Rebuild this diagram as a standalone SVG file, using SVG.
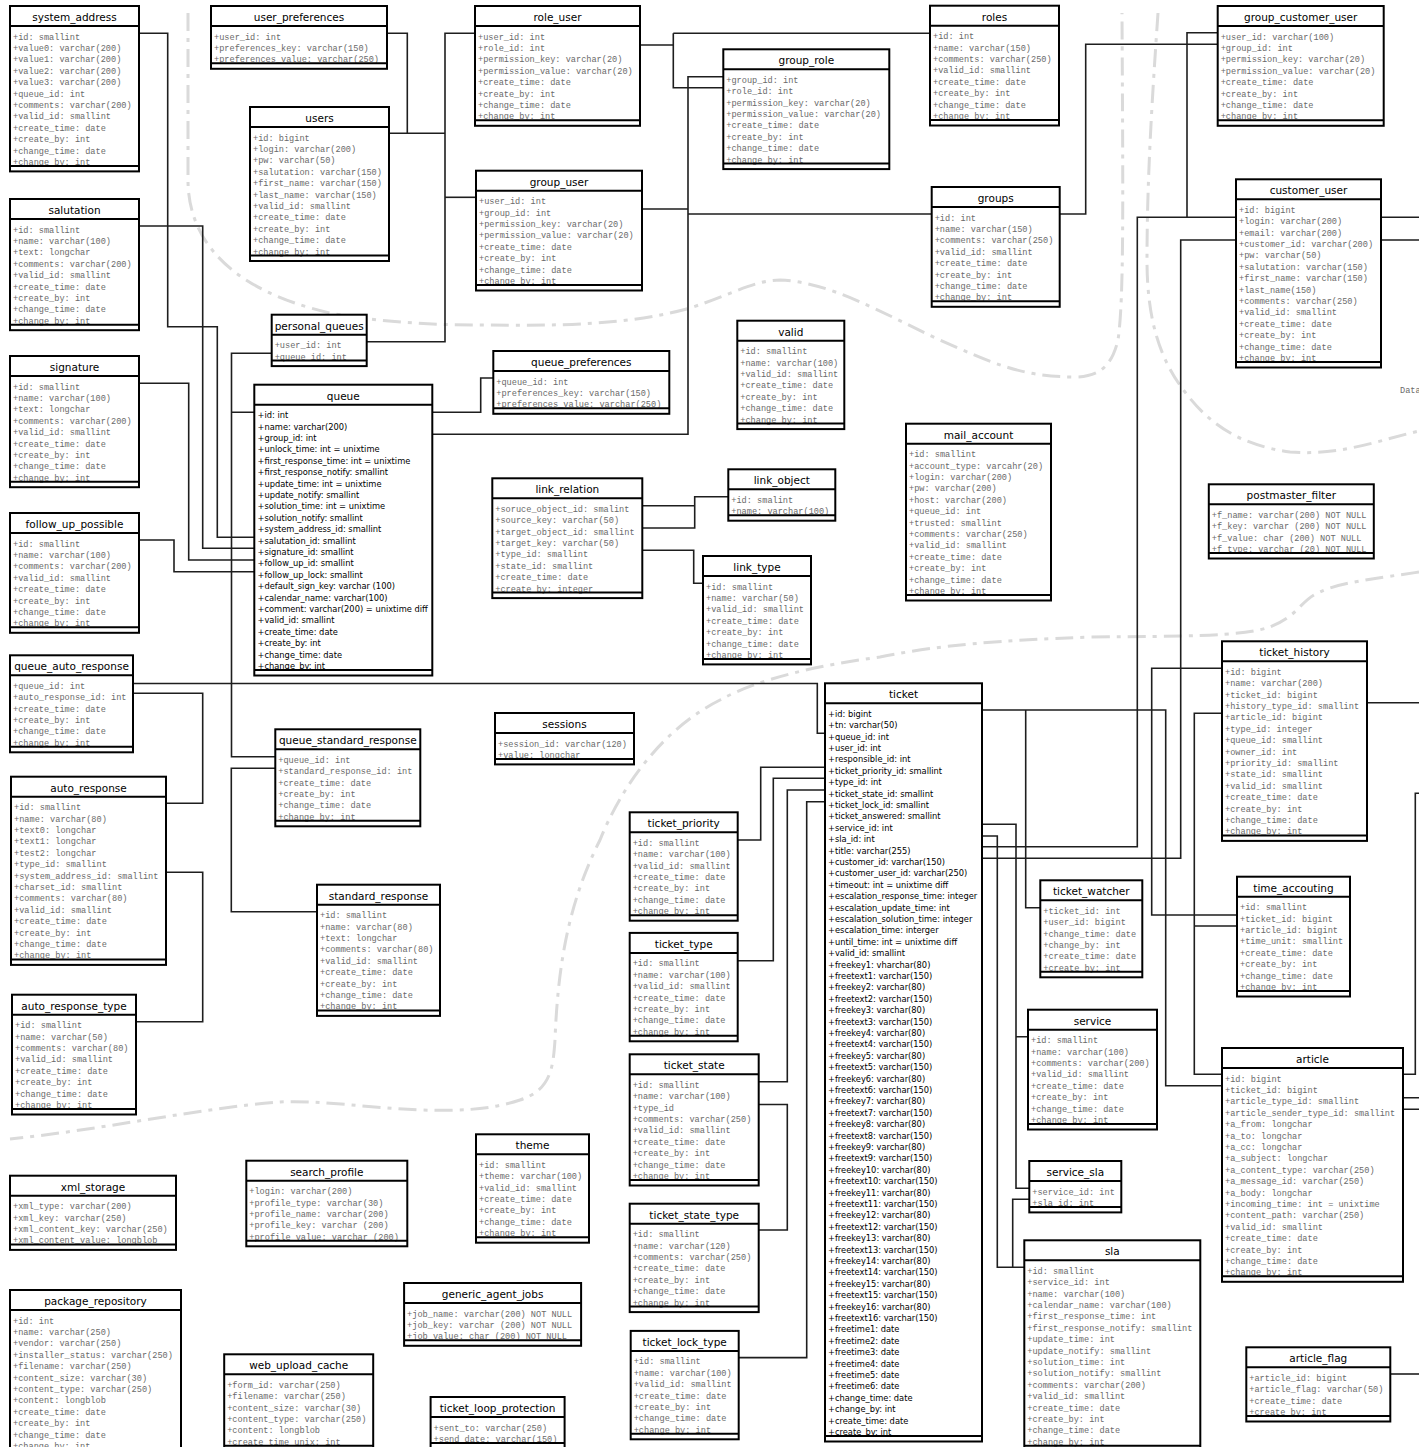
<svg xmlns="http://www.w3.org/2000/svg" width="1419" height="1447" viewBox="0 0 1419 1447">
<style>
.b{fill:#fff;stroke:#000;stroke-width:2}
.l{fill:none;stroke:#000;stroke-width:2}
.t{font-family:"DejaVu Sans",sans-serif;font-size:10.5px;text-anchor:middle;fill:#000}
.m{font-family:"Liberation Mono",monospace;font-size:8.6px;fill:#6a6a6a}
.s{font-family:"DejaVu Sans",sans-serif;font-size:8.3px;fill:#000}
.c{fill:none;stroke:#1e1e1e;stroke-width:1.6}
.r{fill:none;stroke:#dadada;stroke-width:3;stroke-dasharray:18 7 4 7}
</style>
<rect width="1419" height="1447" fill="#fff"/>
<g id="regions">
<path class="r" d="M188,13 L188,180 C188,240 230,290 330,313 C380,322 430,325 480,325 C560,326 630,325 690,308 C730,295 755,280 780,280 C830,282 880,312 940,340 C990,362 1020,377 1075,377 C1100,377 1112,365 1118,340 C1124,300 1123,200 1122,13"/>
<path class="r" d="M1158,13 C1152,100 1147,180 1147,260 C1147,320 1160,360 1185,392 C1210,425 1240,445 1290,452 C1340,456 1380,440 1419,431"/>
<path class="r" d="M1419,572 C1380,578 1340,582 1320,592 C1300,600 1300,615 1270,627 C1240,637 1180,636 1092,637 C1000,640 940,645 880,657 C820,665 760,678 720,700 C660,730 620,790 600,840 C570,900 558,960 555,1040 C553,1070 550,1090 520,1100 C490,1110 460,1111 420,1110 C370,1108 320,1100 280,1102 C200,1108 100,1130 10,1139"/>
</g>
<g id="connectors">
<path class="c" d="M139,33.3H167.7V326.7H217.3V537.3H254.3"/>
<path class="c" d="M139,226H202.7V548.3H254.3"/>
<path class="c" d="M139,383.3H188.7V560H254.3"/>
<path class="c" d="M139,540H174V571.7H254.3"/>
<path class="c" d="M387,33.3H407.3V133.3"/>
<path class="c" d="M389,133.3H445"/>
<path class="c" d="M475,33.3H445V341.7H366.7"/>
<path class="c" d="M445,197.3H476"/>
<path class="c" d="M640.3,45H673.3M673.3,33.3H930M673.3,33.3V87.7H723.3"/>
<path class="c" d="M723.3,76.7H688V434.3H432.3"/>
<path class="c" d="M641.7,209H688M688,214H931.7"/>
<path class="c" d="M1055,214H1085.7V44.3H1217.7"/>
<path class="c" d="M1217.7,32.7H1187V217.3"/>
<path class="c" d="M1236,217.3H1137.3V846.7H981.7"/>
<path class="c" d="M1236,240H1180.7V858.3H981.7"/>
<path class="c" d="M1380.7,217.3H1419M1380.7,240H1419"/>
<path class="c" d="M271.7,353.3H231.5V756.7H275.3M231.5,412.3H254.3"/>
<path class="c" d="M128.3,683.5H817.3V733.3H825"/>
<path class="c" d="M128.3,693.3H202.7V803.3H166.3"/>
<path class="c" d="M166.3,872.3H202.7V1021.7H135.7"/>
<path class="c" d="M275.3,768.3H231.3V911.7H317"/>
<path class="c" d="M432.3,412.3H480.7V378H493.3"/>
<path class="c" d="M642.3,505.7H694.7V496.7H728.3M642.3,528H694.7V505.7"/>
<path class="c" d="M642.3,550.3H693.7V583.3H703"/>
<path class="c" d="M737.3,840H760.7V767.3H825"/>
<path class="c" d="M737.3,960.7H773.3V778.3H825"/>
<path class="c" d="M758.7,1081.7H787.3V790H825"/>
<path class="c" d="M758.7,1104.5H787.3V1230H758.7"/>
<path class="c" d="M738.3,1357.6H806.7V801.7H825"/>
<path class="c" d="M981.7,710H1165.7V1085.7H1222"/>
<path class="c" d="M1025.7,710V907.7H1040.3"/>
<path class="c" d="M981.7,824.3H1016V1188.3H1029.3M1016,1036.7H1028"/>
<path class="c" d="M981.7,836H997.3V1267.3H1024.3"/>
<path class="c" d="M1029.3,1199.3H1012.7V1267.3"/>
<path class="c" d="M1222,668.3H1151.7V915H1237"/>
<path class="c" d="M1222,713.3H1194.3V1074.3H1222M1194.3,926H1237"/>
<path class="c" d="M1361.3,702.7H1419"/>
<path class="c" d="M1403,1074.3H1415.3V793.3H1419"/>
<path class="c" d="M1403,1097.7H1419M1403,1109.3H1419"/>
<path class="c" d="M1390.7,1374H1419"/>
</g>
<g id="system_address"><rect class="b" x="10" y="6" width="129" height="165.4"/><text class="t" x="74.5" y="21">system_address</text><text class="m" y="39.5"><tspan x="13">+id: smallint</tspan><tspan x="13" dy="11.4">+value0: varchar(200)</tspan><tspan x="13" dy="11.4">+value1: varchar(200)</tspan><tspan x="13" dy="11.4">+value2: varchar(200)</tspan><tspan x="13" dy="11.4">+value3: varchar(200)</tspan><tspan x="13" dy="11.4">+queue_id: int</tspan><tspan x="13" dy="11.4">+comments: varchar(200)</tspan><tspan x="13" dy="11.4">+valid_id: smallint</tspan><tspan x="13" dy="11.4">+create_time: date</tspan><tspan x="13" dy="11.4">+create_by: int</tspan><tspan x="13" dy="11.4">+change_time: date</tspan><tspan x="13" dy="11.4">+change_by: int</tspan></text><path class="l" d="M10,26H139M10,165.9H139"/></g>
<g id="salutation"><rect class="b" x="10" y="199" width="129" height="131.2"/><text class="t" x="74.5" y="214">salutation</text><text class="m" y="232.5"><tspan x="13">+id: smallint</tspan><tspan x="13" dy="11.4">+name: varchar(100)</tspan><tspan x="13" dy="11.4">+text: longchar</tspan><tspan x="13" dy="11.4">+comments: varchar(200)</tspan><tspan x="13" dy="11.4">+valid_id: smallint</tspan><tspan x="13" dy="11.4">+create_time: date</tspan><tspan x="13" dy="11.4">+create_by: int</tspan><tspan x="13" dy="11.4">+change_time: date</tspan><tspan x="13" dy="11.4">+change_by: int</tspan></text><path class="l" d="M10,219H139M10,324.7H139"/></g>
<g id="signature"><rect class="b" x="10" y="356" width="129" height="131.2"/><text class="t" x="74.5" y="371">signature</text><text class="m" y="389.5"><tspan x="13">+id: smallint</tspan><tspan x="13" dy="11.4">+name: varchar(100)</tspan><tspan x="13" dy="11.4">+text: longchar</tspan><tspan x="13" dy="11.4">+comments: varchar(200)</tspan><tspan x="13" dy="11.4">+valid_id: smallint</tspan><tspan x="13" dy="11.4">+create_time: date</tspan><tspan x="13" dy="11.4">+create_by: int</tspan><tspan x="13" dy="11.4">+change_time: date</tspan><tspan x="13" dy="11.4">+change_by: int</tspan></text><path class="l" d="M10,376H139M10,481.7H139"/></g>
<g id="follow_up_possible"><rect class="b" x="10" y="513" width="129" height="119.8"/><text class="t" x="74.5" y="528">follow_up_possible</text><text class="m" y="546.5"><tspan x="13">+id: smallint</tspan><tspan x="13" dy="11.4">+name: varchar(100)</tspan><tspan x="13" dy="11.4">+comments: varchar(200)</tspan><tspan x="13" dy="11.4">+valid_id: smallint</tspan><tspan x="13" dy="11.4">+create_time: date</tspan><tspan x="13" dy="11.4">+create_by: int</tspan><tspan x="13" dy="11.4">+change_time: date</tspan><tspan x="13" dy="11.4">+change_by: int</tspan></text><path class="l" d="M10,533H139M10,627.3H139"/></g>
<g id="queue_auto_response"><rect class="b" x="10" y="655.3" width="123" height="97"/><text class="t" x="71.5" y="670.3">queue_auto_response</text><text class="m" y="688.8"><tspan x="13">+queue_id: int</tspan><tspan x="13" dy="11.4">+auto_response_id: int</tspan><tspan x="13" dy="11.4">+create_time: date</tspan><tspan x="13" dy="11.4">+create_by: int</tspan><tspan x="13" dy="11.4">+change_time: date</tspan><tspan x="13" dy="11.4">+change_by: int</tspan></text><path class="l" d="M10,675.3H133M10,746.8H133"/></g>
<g id="auto_response"><rect class="b" x="11" y="776.7" width="155" height="188.2"/><text class="t" x="88.5" y="791.7">auto_response</text><text class="m" y="810.2"><tspan x="14">+id: smallint</tspan><tspan x="14" dy="11.4">+name: varchar(80)</tspan><tspan x="14" dy="11.4">+text0: longchar</tspan><tspan x="14" dy="11.4">+text1: longchar</tspan><tspan x="14" dy="11.4">+test2: longchar</tspan><tspan x="14" dy="11.4">+type_id: smallint</tspan><tspan x="14" dy="11.4">+system_address_id: smallint</tspan><tspan x="14" dy="11.4">+charset_id: smallint</tspan><tspan x="14" dy="11.4">+comments: varchar(80)</tspan><tspan x="14" dy="11.4">+valid_id: smallint</tspan><tspan x="14" dy="11.4">+create_time: date</tspan><tspan x="14" dy="11.4">+create_by: int</tspan><tspan x="14" dy="11.4">+change_time: date</tspan><tspan x="14" dy="11.4">+change_by: int</tspan></text><path class="l" d="M11,796.7H166M11,959.4H166"/></g>
<g id="auto_response_type"><rect class="b" x="12" y="994.7" width="124" height="119.8"/><text class="t" x="74" y="1009.7">auto_response_type</text><text class="m" y="1028.2"><tspan x="15">+id: smallint</tspan><tspan x="15" dy="11.4">+name: varchar(50)</tspan><tspan x="15" dy="11.4">+comments: varchar(80)</tspan><tspan x="15" dy="11.4">+valid_id: smallint</tspan><tspan x="15" dy="11.4">+create_time: date</tspan><tspan x="15" dy="11.4">+create_by: int</tspan><tspan x="15" dy="11.4">+change_time: date</tspan><tspan x="15" dy="11.4">+change_by: int</tspan></text><path class="l" d="M12,1014.7H136M12,1109H136"/></g>
<g id="xml_storage"><rect class="b" x="10" y="1175.7" width="166" height="74.2"/><text class="t" x="93" y="1190.7">xml_storage</text><text class="m" y="1209.2"><tspan x="13">+xml_type: varchar(200)</tspan><tspan x="13" dy="11.4">+xml_key: varchar(250)</tspan><tspan x="13" dy="11.4">+xml_content_key: varchar(250)</tspan><tspan x="13" dy="11.4">+xml_content_value: longblob</tspan></text><path class="l" d="M10,1195.7H176M10,1244.4H176"/></g>
<g id="package_repository"><rect class="b" x="10" y="1290" width="171" height="165.4"/><text class="t" x="95.5" y="1305">package_repository</text><text class="m" y="1323.5"><tspan x="13">+id: int</tspan><tspan x="13" dy="11.4">+name: varchar(250)</tspan><tspan x="13" dy="11.4">+vendor: varchar(250)</tspan><tspan x="13" dy="11.4">+installer_status: varchar(250)</tspan><tspan x="13" dy="11.4">+filename: varchar(250)</tspan><tspan x="13" dy="11.4">+content_size: varchar(30)</tspan><tspan x="13" dy="11.4">+content_type: varchar(250)</tspan><tspan x="13" dy="11.4">+content: longblob</tspan><tspan x="13" dy="11.4">+create_time: date</tspan><tspan x="13" dy="11.4">+create_by: int</tspan><tspan x="13" dy="11.4">+change_time: date</tspan><tspan x="13" dy="11.4">+change_by: int</tspan></text><path class="l" d="M10,1310H181"/></g>
<g id="user_preferences"><rect class="b" x="211" y="6" width="176" height="62.8"/><text class="t" x="299" y="21">user_preferences</text><text class="m" y="39.5"><tspan x="214">+user_id: int</tspan><tspan x="214" dy="11.4">+preferences_key: varchar(150)</tspan><tspan x="214" dy="11.4">+preferences_value: varchar(250)</tspan></text><path class="l" d="M211,26H387M211,63.3H387"/></g>
<g id="users"><rect class="b" x="250" y="107" width="139" height="154"/><text class="t" x="319.5" y="122">users</text><text class="m" y="140.5"><tspan x="253">+id: bigint</tspan><tspan x="253" dy="11.4">+login: varchar(200)</tspan><tspan x="253" dy="11.4">+pw: varchar(50)</tspan><tspan x="253" dy="11.4">+salutation: varchar(150)</tspan><tspan x="253" dy="11.4">+first_name: varchar(150)</tspan><tspan x="253" dy="11.4">+last_name: varchar(150)</tspan><tspan x="253" dy="11.4">+valid_id: smallint</tspan><tspan x="253" dy="11.4">+create_time: date</tspan><tspan x="253" dy="11.4">+create_by: int</tspan><tspan x="253" dy="11.4">+change_time: date</tspan><tspan x="253" dy="11.4">+change_by: int</tspan></text><path class="l" d="M250,127H389M250,255.5H389"/></g>
<g id="role_user"><rect class="b" x="475" y="6" width="165" height="119.8"/><text class="t" x="557.5" y="21">role_user</text><text class="m" y="39.5"><tspan x="478">+user_id: int</tspan><tspan x="478" dy="11.4">+role_id: int</tspan><tspan x="478" dy="11.4">+permission_key: varchar(20)</tspan><tspan x="478" dy="11.4">+permission_value: varchar(20)</tspan><tspan x="478" dy="11.4">+create_time: date</tspan><tspan x="478" dy="11.4">+create_by: int</tspan><tspan x="478" dy="11.4">+change_time: date</tspan><tspan x="478" dy="11.4">+change_by: int</tspan></text><path class="l" d="M475,26H640M475,120.3H640"/></g>
<g id="group_user"><rect class="b" x="476" y="170.7" width="166" height="119.8"/><text class="t" x="559" y="185.7">group_user</text><text class="m" y="204.2"><tspan x="479">+user_id: int</tspan><tspan x="479" dy="11.4">+group_id: int</tspan><tspan x="479" dy="11.4">+permission_key: varchar(20)</tspan><tspan x="479" dy="11.4">+permission_value: varchar(20)</tspan><tspan x="479" dy="11.4">+create_time: date</tspan><tspan x="479" dy="11.4">+create_by: int</tspan><tspan x="479" dy="11.4">+change_time: date</tspan><tspan x="479" dy="11.4">+change_by: int</tspan></text><path class="l" d="M476,190.7H642M476,285H642"/></g>
<g id="group_role"><rect class="b" x="723.3" y="49.3" width="166" height="119.8"/><text class="t" x="806.3" y="64.3">group_role</text><text class="m" y="82.8"><tspan x="726.3">+group_id: int</tspan><tspan x="726.3" dy="11.4">+role_id: int</tspan><tspan x="726.3" dy="11.4">+permission_key: varchar(20)</tspan><tspan x="726.3" dy="11.4">+permission_value: varchar(20)</tspan><tspan x="726.3" dy="11.4">+create_time: date</tspan><tspan x="726.3" dy="11.4">+create_by: int</tspan><tspan x="726.3" dy="11.4">+change_time: date</tspan><tspan x="726.3" dy="11.4">+change_by: int</tspan></text><path class="l" d="M723.3,69.3H889.3M723.3,163.6H889.3"/></g>
<g id="roles"><rect class="b" x="930" y="5.7" width="129" height="119.8"/><text class="t" x="994.5" y="20.7">roles</text><text class="m" y="39.2"><tspan x="933">+id: int</tspan><tspan x="933" dy="11.4">+name: varchar(150)</tspan><tspan x="933" dy="11.4">+comments: varchar(250)</tspan><tspan x="933" dy="11.4">+valid_id: smallint</tspan><tspan x="933" dy="11.4">+create_time: date</tspan><tspan x="933" dy="11.4">+create_by: int</tspan><tspan x="933" dy="11.4">+change_time: date</tspan><tspan x="933" dy="11.4">+change_by: int</tspan></text><path class="l" d="M930,25.7H1059M930,120H1059"/></g>
<g id="groups"><rect class="b" x="931.7" y="187" width="128" height="119.8"/><text class="t" x="995.7" y="202">groups</text><text class="m" y="220.5"><tspan x="934.7">+id: int</tspan><tspan x="934.7" dy="11.4">+name: varchar(150)</tspan><tspan x="934.7" dy="11.4">+comments: varchar(250)</tspan><tspan x="934.7" dy="11.4">+valid_id: smallint</tspan><tspan x="934.7" dy="11.4">+create_time: date</tspan><tspan x="934.7" dy="11.4">+create_by: int</tspan><tspan x="934.7" dy="11.4">+change_time: date</tspan><tspan x="934.7" dy="11.4">+change_by: int</tspan></text><path class="l" d="M931.7,207H1059.7M931.7,301.3H1059.7"/></g>
<g id="group_customer_user"><rect class="b" x="1217.7" y="6" width="166" height="119.8"/><text class="t" x="1300.7" y="21">group_customer_user</text><text class="m" y="39.5"><tspan x="1220.7">+user_id: varchar(100)</tspan><tspan x="1220.7" dy="11.4">+group_id: int</tspan><tspan x="1220.7" dy="11.4">+permission_key: varchar(20)</tspan><tspan x="1220.7" dy="11.4">+permission_value: varchar(20)</tspan><tspan x="1220.7" dy="11.4">+create_time: date</tspan><tspan x="1220.7" dy="11.4">+create_by: int</tspan><tspan x="1220.7" dy="11.4">+change_time: date</tspan><tspan x="1220.7" dy="11.4">+change_by: int</tspan></text><path class="l" d="M1217.7,26H1383.7M1217.7,120.3H1383.7"/></g>
<g id="customer_user"><rect class="b" x="1236" y="179.3" width="145" height="188.2"/><text class="t" x="1308.5" y="194.3">customer_user</text><text class="m" y="212.8"><tspan x="1239">+id: bigint</tspan><tspan x="1239" dy="11.4">+login: varchar(200)</tspan><tspan x="1239" dy="11.4">+email: varchar(200)</tspan><tspan x="1239" dy="11.4">+customer_id: varchar(200)</tspan><tspan x="1239" dy="11.4">+pw: varchar(50)</tspan><tspan x="1239" dy="11.4">+salutation: varchar(150)</tspan><tspan x="1239" dy="11.4">+first_name: varchar(150)</tspan><tspan x="1239" dy="11.4">+last_name(150)</tspan><tspan x="1239" dy="11.4">+comments: varchar(250)</tspan><tspan x="1239" dy="11.4">+valid_id: smallint</tspan><tspan x="1239" dy="11.4">+create_time: date</tspan><tspan x="1239" dy="11.4">+create_by: int</tspan><tspan x="1239" dy="11.4">+change_time: date</tspan><tspan x="1239" dy="11.4">+change_by: int</tspan></text><path class="l" d="M1236,199.3H1381M1236,362H1381"/></g>
<text class="m" x="1400" y="393">Data</text>
<g id="personal_queues"><rect class="b" x="271.7" y="314.7" width="95" height="51.4"/><text class="t" x="319.2" y="329.7">personal_queues</text><text class="m" y="348.2"><tspan x="274.7">+user_id: int</tspan><tspan x="274.7" dy="11.4">+queue_id: int</tspan></text><path class="l" d="M271.7,334.7H366.7M271.7,360.6H366.7"/></g>
<g id="queue"><rect class="b" x="254.3" y="384.7" width="178" height="290.8"/><text class="t" x="343.3" y="399.7">queue</text><text class="s" y="418.2"><tspan x="257.5">+id: int</tspan><tspan x="257.5" dy="11.4">+name: varchar(200)</tspan><tspan x="257.5" dy="11.4">+group_id: int</tspan><tspan x="257.5" dy="11.4">+unlock_time: int = unixtime</tspan><tspan x="257.5" dy="11.4">+first_response_time: int = unixtime</tspan><tspan x="257.5" dy="11.4">+first_response_notify: smallint</tspan><tspan x="257.5" dy="11.4">+update_time: int = unixtime</tspan><tspan x="257.5" dy="11.4">+update_notify: smallint</tspan><tspan x="257.5" dy="11.4">+solution_time: int = unixtime</tspan><tspan x="257.5" dy="11.4">+solution_notify: smallint</tspan><tspan x="257.5" dy="11.4">+system_address_id: smallint</tspan><tspan x="257.5" dy="11.4">+salutation_id: smallint</tspan><tspan x="257.5" dy="11.4">+signature_id: smallint</tspan><tspan x="257.5" dy="11.4">+follow_up_id: smallint</tspan><tspan x="257.5" dy="11.4">+follow_up_lock: smallint</tspan><tspan x="257.5" dy="11.4">+default_sign_key: varchar (100)</tspan><tspan x="257.5" dy="11.4">+calendar_name: varchar(100)</tspan><tspan x="257.5" dy="11.4">+comment: varchar(200) = unixtime diff</tspan><tspan x="257.5" dy="11.4">+valid_id: smallint</tspan><tspan x="257.5" dy="11.4">+create_time: date</tspan><tspan x="257.5" dy="11.4">+create_by: int</tspan><tspan x="257.5" dy="11.4">+change_time: date</tspan><tspan x="257.5" dy="11.4">+change_by: int</tspan></text><path class="l" d="M254.3,404.7H432.3M254.3,670H432.3"/></g>
<g id="queue_preferences"><rect class="b" x="493.3" y="351" width="176" height="62.8"/><text class="t" x="581.3" y="366">queue_preferences</text><text class="m" y="384.5"><tspan x="496.3">+queue_id: int</tspan><tspan x="496.3" dy="11.4">+preferences_key: varchar(150)</tspan><tspan x="496.3" dy="11.4">+preferences_value: varchar(250)</tspan></text><path class="l" d="M493.3,371H669.3M493.3,408.3H669.3"/></g>
<g id="valid"><rect class="b" x="737.3" y="320.7" width="107" height="108.4"/><text class="t" x="790.8" y="335.7">valid</text><text class="m" y="354.2"><tspan x="740.3">+id: smallint</tspan><tspan x="740.3" dy="11.4">+name: varchar(100)</tspan><tspan x="740.3" dy="11.4">+valid_id: smallint</tspan><tspan x="740.3" dy="11.4">+create_time: date</tspan><tspan x="740.3" dy="11.4">+create_by: int</tspan><tspan x="740.3" dy="11.4">+change_time: date</tspan><tspan x="740.3" dy="11.4">+change_by: int</tspan></text><path class="l" d="M737.3,340.7H844.3M737.3,423.6H844.3"/></g>
<g id="link_relation"><rect class="b" x="492.3" y="478.3" width="150" height="119.8"/><text class="t" x="567.3" y="493.3">link_relation</text><text class="m" y="511.8"><tspan x="495.3">+soruce_object_id: smalint</tspan><tspan x="495.3" dy="11.4">+source_key: varchar(50)</tspan><tspan x="495.3" dy="11.4">+target_object_id: smallint</tspan><tspan x="495.3" dy="11.4">+target_key: varchar(50)</tspan><tspan x="495.3" dy="11.4">+type_id: smallint</tspan><tspan x="495.3" dy="11.4">+state_id: smallint</tspan><tspan x="495.3" dy="11.4">+create_time: date</tspan><tspan x="495.3" dy="11.4">+create_by: integer</tspan></text><path class="l" d="M492.3,498.3H642.3M492.3,592.6H642.3"/></g>
<g id="link_object"><rect class="b" x="728.3" y="469.3" width="107" height="51.4"/><text class="t" x="781.8" y="484.3">link_object</text><text class="m" y="502.8"><tspan x="731.3">+id: smalint</tspan><tspan x="731.3" dy="11.4">+name: varchar(100)</tspan></text><path class="l" d="M728.3,489.3H835.3M728.3,515.2H835.3"/></g>
<g id="link_type"><rect class="b" x="703" y="556" width="108" height="108.4"/><text class="t" x="757" y="571">link_type</text><text class="m" y="589.5"><tspan x="706">+id: smallint</tspan><tspan x="706" dy="11.4">+name: varchar(50)</tspan><tspan x="706" dy="11.4">+valid_id: smallint</tspan><tspan x="706" dy="11.4">+create_time: date</tspan><tspan x="706" dy="11.4">+create_by: int</tspan><tspan x="706" dy="11.4">+change_time: date</tspan><tspan x="706" dy="11.4">+change_by: int</tspan></text><path class="l" d="M703,576H811M703,658.9H811"/></g>
<g id="mail_account"><rect class="b" x="906" y="423.7" width="145" height="176.8"/><text class="t" x="978.5" y="438.7">mail_account</text><text class="m" y="457.2"><tspan x="909">+id: smallint</tspan><tspan x="909" dy="11.4">+account_type: varcahr(20)</tspan><tspan x="909" dy="11.4">+login: varchar(200)</tspan><tspan x="909" dy="11.4">+pw: varchar(200)</tspan><tspan x="909" dy="11.4">+host: varchar(200)</tspan><tspan x="909" dy="11.4">+queue_id: int</tspan><tspan x="909" dy="11.4">+trusted: smallint</tspan><tspan x="909" dy="11.4">+comments: varchar(250)</tspan><tspan x="909" dy="11.4">+valid_id: smallint</tspan><tspan x="909" dy="11.4">+create_time: date</tspan><tspan x="909" dy="11.4">+create_by: int</tspan><tspan x="909" dy="11.4">+change_time: date</tspan><tspan x="909" dy="11.4">+change_by: int</tspan></text><path class="l" d="M906,443.7H1051M906,595H1051"/></g>
<g id="postmaster_filter"><rect class="b" x="1208.8" y="484.3" width="165" height="74.2"/><text class="t" x="1291.3" y="499.3">postmaster_filter</text><text class="m" y="517.8"><tspan x="1211.8">+f_name: varchar(200) NOT NULL</tspan><tspan x="1211.8" dy="11.4">+f_key: varchar (200) NOT NULL</tspan><tspan x="1211.8" dy="11.4">+f_value: char (200) NOT NULL</tspan><tspan x="1211.8" dy="11.4">+f_type: varchar (20) NOT NULL</tspan></text><path class="l" d="M1208.8,504.3H1373.8M1208.8,553H1373.8"/></g>
<g id="ticket_history"><rect class="b" x="1222" y="641.3" width="145" height="199.6"/><text class="t" x="1294.5" y="656.3">ticket_history</text><text class="m" y="674.8"><tspan x="1225">+id: bigint</tspan><tspan x="1225" dy="11.4">+name: varchar(200)</tspan><tspan x="1225" dy="11.4">+ticket_id: bigint</tspan><tspan x="1225" dy="11.4">+history_type_id: smallint</tspan><tspan x="1225" dy="11.4">+article_id: bigint</tspan><tspan x="1225" dy="11.4">+type_id: integer</tspan><tspan x="1225" dy="11.4">+queue_id: smallint</tspan><tspan x="1225" dy="11.4">+owner_id: int</tspan><tspan x="1225" dy="11.4">+priority_id: smallint</tspan><tspan x="1225" dy="11.4">+state_id: smallint</tspan><tspan x="1225" dy="11.4">+valid_id: smallint</tspan><tspan x="1225" dy="11.4">+create_time: date</tspan><tspan x="1225" dy="11.4">+create_by: int</tspan><tspan x="1225" dy="11.4">+change_time: date</tspan><tspan x="1225" dy="11.4">+change_by: int</tspan></text><path class="l" d="M1222,661.3H1367M1222,835.4H1367"/></g>
<g id="queue_standard_response"><rect class="b" x="275.3" y="729.3" width="145" height="97"/><text class="t" x="347.8" y="744.3">queue_standard_response</text><text class="m" y="762.8"><tspan x="278.3">+queue_id: int</tspan><tspan x="278.3" dy="11.4">+standard_response_id: int</tspan><tspan x="278.3" dy="11.4">+create_time: date</tspan><tspan x="278.3" dy="11.4">+create_by: int</tspan><tspan x="278.3" dy="11.4">+change_time: date</tspan><tspan x="278.3" dy="11.4">+change_by: int</tspan></text><path class="l" d="M275.3,749.3H420.3M275.3,820.8H420.3"/></g>
<g id="standard_response"><rect class="b" x="317" y="884.7" width="123" height="131.2"/><text class="t" x="378.5" y="899.7">standard_response</text><text class="m" y="918.2"><tspan x="320">+id: smallint</tspan><tspan x="320" dy="11.4">+name: varchar(80)</tspan><tspan x="320" dy="11.4">+text: longchar</tspan><tspan x="320" dy="11.4">+comments: varchar(80)</tspan><tspan x="320" dy="11.4">+valid_id: smallint</tspan><tspan x="320" dy="11.4">+create_time: date</tspan><tspan x="320" dy="11.4">+create_by: int</tspan><tspan x="320" dy="11.4">+change_time: date</tspan><tspan x="320" dy="11.4">+change_by: int</tspan></text><path class="l" d="M317,904.7H440M317,1010.4H440"/></g>
<g id="sessions"><rect class="b" x="495" y="713" width="139" height="51.4"/><text class="t" x="564.5" y="728">sessions</text><text class="m" y="746.5"><tspan x="498">+session_id: varchar(120)</tspan><tspan x="498" dy="11.4">+value: longchar</tspan></text><path class="l" d="M495,733H634M495,758.9H634"/></g>
<g id="ticket"><rect class="b" x="825" y="683.3" width="157" height="758.2"/><text class="t" x="903.5" y="698.3">ticket</text><text class="s" y="716.8"><tspan x="828">+id: bigint</tspan><tspan x="828" dy="11.4">+tn: varchar(50)</tspan><tspan x="828" dy="11.4">+queue_id: int</tspan><tspan x="828" dy="11.4">+user_id: int</tspan><tspan x="828" dy="11.4">+responsible_id: int</tspan><tspan x="828" dy="11.4">+ticket_priority_id: smallint</tspan><tspan x="828" dy="11.4">+type_id: int</tspan><tspan x="828" dy="11.4">+ticket_state_id: smallint</tspan><tspan x="828" dy="11.4">+ticket_lock_id: smallint</tspan><tspan x="828" dy="11.4">+ticket_answered: smallint</tspan><tspan x="828" dy="11.4">+service_id: int</tspan><tspan x="828" dy="11.4">+sla_id: int</tspan><tspan x="828" dy="11.4">+title: varchar(255)</tspan><tspan x="828" dy="11.4">+customer_id: varchar(150)</tspan><tspan x="828" dy="11.4">+customer_user_id: varchar(250)</tspan><tspan x="828" dy="11.4">+timeout: int = unixtime diff</tspan><tspan x="828" dy="11.4">+escalation_response_time: integer</tspan><tspan x="828" dy="11.4">+escalation_update_time: int</tspan><tspan x="828" dy="11.4">+escalation_solution_time: integer</tspan><tspan x="828" dy="11.4">+escalation_time: interger</tspan><tspan x="828" dy="11.4">+until_time: int = unixtime diff</tspan><tspan x="828" dy="11.4">+valid_id: smallint</tspan><tspan x="828" dy="11.4">+freekey1: vharchar(80)</tspan><tspan x="828" dy="11.4">+freetext1: varchar(150)</tspan><tspan x="828" dy="11.4">+freekey2: varchar(80)</tspan><tspan x="828" dy="11.4">+freetext2: varchar(150)</tspan><tspan x="828" dy="11.4">+freekey3: varchar(80)</tspan><tspan x="828" dy="11.4">+freetext3: varchar(150)</tspan><tspan x="828" dy="11.4">+freekey4: varchar(80)</tspan><tspan x="828" dy="11.4">+freetext4: varchar(150)</tspan><tspan x="828" dy="11.4">+freekey5: varchar(80)</tspan><tspan x="828" dy="11.4">+freetext5: varchar(150)</tspan><tspan x="828" dy="11.4">+freekey6: varchar(80)</tspan><tspan x="828" dy="11.4">+freetext6: varchar(150)</tspan><tspan x="828" dy="11.4">+freekey7: varchar(80)</tspan><tspan x="828" dy="11.4">+freetext7: varchar(150)</tspan><tspan x="828" dy="11.4">+freekey8: varchar(80)</tspan><tspan x="828" dy="11.4">+freetext8: varchar(150)</tspan><tspan x="828" dy="11.4">+freekey9: varchar(80)</tspan><tspan x="828" dy="11.4">+freetext9: varchar(150)</tspan><tspan x="828" dy="11.4">+freekey10: varchar(80)</tspan><tspan x="828" dy="11.4">+freetext10: varchar(150)</tspan><tspan x="828" dy="11.4">+freekey11: varchar(80)</tspan><tspan x="828" dy="11.4">+freetext11: varchar(150)</tspan><tspan x="828" dy="11.4">+freekey12: varchar(80)</tspan><tspan x="828" dy="11.4">+freetext12: varchar(150)</tspan><tspan x="828" dy="11.4">+freekey13: varchar(80)</tspan><tspan x="828" dy="11.4">+freetext13: varchar(150)</tspan><tspan x="828" dy="11.4">+freekey14: varchar(80)</tspan><tspan x="828" dy="11.4">+freetext14: varchar(150)</tspan><tspan x="828" dy="11.4">+freekey15: varchar(80)</tspan><tspan x="828" dy="11.4">+freetext15: varchar(150)</tspan><tspan x="828" dy="11.4">+freekey16: varchar(80)</tspan><tspan x="828" dy="11.4">+freetext16: varchar(150)</tspan><tspan x="828" dy="11.4">+freetime1: date</tspan><tspan x="828" dy="11.4">+freetime2: date</tspan><tspan x="828" dy="11.4">+freetime3: date</tspan><tspan x="828" dy="11.4">+freetime4: date</tspan><tspan x="828" dy="11.4">+freetime5: date</tspan><tspan x="828" dy="11.4">+freetime6: date</tspan><tspan x="828" dy="11.4">+change_time: date</tspan><tspan x="828" dy="11.4">+change_by: int</tspan><tspan x="828" dy="11.4">+create_time: date</tspan><tspan x="828" dy="11.4">+create_by: int</tspan></text><path class="l" d="M825,703.3H982M825,1436H982"/></g>
<g id="ticket_priority"><rect class="b" x="629.7" y="812.3" width="108" height="108.4"/><text class="t" x="683.7" y="827.3">ticket_priority</text><text class="m" y="845.8"><tspan x="632.7">+id: smallint</tspan><tspan x="632.7" dy="11.4">+name: varchar(100)</tspan><tspan x="632.7" dy="11.4">+valid_id: smallint</tspan><tspan x="632.7" dy="11.4">+create_time: date</tspan><tspan x="632.7" dy="11.4">+create_by: int</tspan><tspan x="632.7" dy="11.4">+change_time: date</tspan><tspan x="632.7" dy="11.4">+change_by: int</tspan></text><path class="l" d="M629.7,832.3H737.7M629.7,915.2H737.7"/></g>
<g id="ticket_type"><rect class="b" x="629.7" y="932.9" width="108" height="108.4"/><text class="t" x="683.7" y="947.9">ticket_type</text><text class="m" y="966.4"><tspan x="632.7">+id: smallint</tspan><tspan x="632.7" dy="11.4">+name: varchar(100)</tspan><tspan x="632.7" dy="11.4">+valid_id: smallint</tspan><tspan x="632.7" dy="11.4">+create_time: date</tspan><tspan x="632.7" dy="11.4">+create_by: int</tspan><tspan x="632.7" dy="11.4">+change_time: date</tspan><tspan x="632.7" dy="11.4">+change_by: int</tspan></text><path class="l" d="M629.7,952.9H737.7M629.7,1035.8H737.7"/></g>
<g id="ticket_state"><rect class="b" x="629.7" y="1054.3" width="129" height="131.2"/><text class="t" x="694.2" y="1069.3">ticket_state</text><text class="m" y="1087.8"><tspan x="632.7">+id: smallint</tspan><tspan x="632.7" dy="11.4">+name: varchar(100)</tspan><tspan x="632.7" dy="11.4">+type_id</tspan><tspan x="632.7" dy="11.4">+comments: varchar(250)</tspan><tspan x="632.7" dy="11.4">+valid_id: smallint</tspan><tspan x="632.7" dy="11.4">+create_time: date</tspan><tspan x="632.7" dy="11.4">+create_by: int</tspan><tspan x="632.7" dy="11.4">+change_time: date</tspan><tspan x="632.7" dy="11.4">+change_by: int</tspan></text><path class="l" d="M629.7,1074.3H758.7M629.7,1180H758.7"/></g>
<g id="ticket_state_type"><rect class="b" x="629.7" y="1203.7" width="129" height="108.4"/><text class="t" x="694.2" y="1218.7">ticket_state_type</text><text class="m" y="1237.2"><tspan x="632.7">+id: smallint</tspan><tspan x="632.7" dy="11.4">+name: varchar(120)</tspan><tspan x="632.7" dy="11.4">+comments: varchar(250)</tspan><tspan x="632.7" dy="11.4">+create_time: date</tspan><tspan x="632.7" dy="11.4">+create_by: int</tspan><tspan x="632.7" dy="11.4">+change_time: date</tspan><tspan x="632.7" dy="11.4">+change_by: int</tspan></text><path class="l" d="M629.7,1223.7H758.7M629.7,1306.6H758.7"/></g>
<g id="ticket_lock_type"><rect class="b" x="630.7" y="1330.9" width="108" height="108.4"/><text class="t" x="684.7" y="1345.9">ticket_lock_type</text><text class="m" y="1364.4"><tspan x="633.7">+id: smallint</tspan><tspan x="633.7" dy="11.4">+name: varchar(100)</tspan><tspan x="633.7" dy="11.4">+valid_id: smallint</tspan><tspan x="633.7" dy="11.4">+create_time: date</tspan><tspan x="633.7" dy="11.4">+create_by: int</tspan><tspan x="633.7" dy="11.4">+change_time: date</tspan><tspan x="633.7" dy="11.4">+change_by: int</tspan></text><path class="l" d="M630.7,1350.9H738.7M630.7,1433.8H738.7"/></g>
<g id="ticket_watcher"><rect class="b" x="1040.3" y="880.3" width="102" height="97"/><text class="t" x="1091.3" y="895.3">ticket_watcher</text><text class="m" y="913.8"><tspan x="1043.3">+ticket_id: int</tspan><tspan x="1043.3" dy="11.4">+user_id: bigint</tspan><tspan x="1043.3" dy="11.4">+change_time: date</tspan><tspan x="1043.3" dy="11.4">+change_by: int</tspan><tspan x="1043.3" dy="11.4">+create_time: date</tspan><tspan x="1043.3" dy="11.4">+create_by: int</tspan></text><path class="l" d="M1040.3,900.3H1142.3M1040.3,971.8H1142.3"/></g>
<g id="service"><rect class="b" x="1028" y="1009.7" width="129" height="119.8"/><text class="t" x="1092.5" y="1024.7">service</text><text class="m" y="1043.2"><tspan x="1031">+id: smallint</tspan><tspan x="1031" dy="11.4">+name: varchar(100)</tspan><tspan x="1031" dy="11.4">+comments: varchar(200)</tspan><tspan x="1031" dy="11.4">+valid_id: smallint</tspan><tspan x="1031" dy="11.4">+create_time: date</tspan><tspan x="1031" dy="11.4">+create_by: int</tspan><tspan x="1031" dy="11.4">+change_time: date</tspan><tspan x="1031" dy="11.4">+change_by: int</tspan></text><path class="l" d="M1028,1029.7H1157M1028,1124H1157"/></g>
<g id="service_sla"><rect class="b" x="1029.3" y="1161" width="92" height="51.4"/><text class="t" x="1075.3" y="1176">service_sla</text><text class="m" y="1194.5"><tspan x="1032.3">+service_id: int</tspan><tspan x="1032.3" dy="11.4">+sla_id: int</tspan></text><path class="l" d="M1029.3,1181H1121.3M1029.3,1206.9H1121.3"/></g>
<g id="sla"><rect class="b" x="1024.3" y="1240.3" width="176" height="211"/><text class="t" x="1112.3" y="1255.3">sla</text><text class="m" y="1273.8"><tspan x="1027.3">+id: smallint</tspan><tspan x="1027.3" dy="11.4">+service_id: int</tspan><tspan x="1027.3" dy="11.4">+name: varchar(100)</tspan><tspan x="1027.3" dy="11.4">+calendar_name: varchar(100)</tspan><tspan x="1027.3" dy="11.4">+first_response_time: int</tspan><tspan x="1027.3" dy="11.4">+first_response_notify: smallint</tspan><tspan x="1027.3" dy="11.4">+update_time: int</tspan><tspan x="1027.3" dy="11.4">+update_notify: smallint</tspan><tspan x="1027.3" dy="11.4">+solution_time: int</tspan><tspan x="1027.3" dy="11.4">+solution_notify: smallint</tspan><tspan x="1027.3" dy="11.4">+comments: varchar(200)</tspan><tspan x="1027.3" dy="11.4">+valid_id: smallint</tspan><tspan x="1027.3" dy="11.4">+create_time: date</tspan><tspan x="1027.3" dy="11.4">+create_by: int</tspan><tspan x="1027.3" dy="11.4">+change_time: date</tspan><tspan x="1027.3" dy="11.4">+change_by: int</tspan></text><path class="l" d="M1024.3,1260.3H1200.3M1024.3,1445.8H1200.3"/></g>
<g id="article"><rect class="b" x="1222" y="1048" width="181" height="233.8"/><text class="t" x="1312.5" y="1063">article</text><text class="m" y="1081.5"><tspan x="1225">+id: bigint</tspan><tspan x="1225" dy="11.4">+ticket_id: bigint</tspan><tspan x="1225" dy="11.4">+article_type_id: smallint</tspan><tspan x="1225" dy="11.4">+article_sender_type_id: smallint</tspan><tspan x="1225" dy="11.4">+a_from: longchar</tspan><tspan x="1225" dy="11.4">+a_to: longchar</tspan><tspan x="1225" dy="11.4">+a_cc: longchar</tspan><tspan x="1225" dy="11.4">+a_subject: longchar</tspan><tspan x="1225" dy="11.4">+a_content_type: varchar(250)</tspan><tspan x="1225" dy="11.4">+a_message_id: varchar(250)</tspan><tspan x="1225" dy="11.4">+a_body: longchar</tspan><tspan x="1225" dy="11.4">+incoming_time: int = unixtime</tspan><tspan x="1225" dy="11.4">+content_path: varchar(250)</tspan><tspan x="1225" dy="11.4">+valid_id: smallint</tspan><tspan x="1225" dy="11.4">+create_time: date</tspan><tspan x="1225" dy="11.4">+create_by: int</tspan><tspan x="1225" dy="11.4">+change_time: date</tspan><tspan x="1225" dy="11.4">+change_by: int</tspan></text><path class="l" d="M1222,1068H1403M1222,1276.3H1403"/></g>
<g id="article_flag"><rect class="b" x="1246.3" y="1347.3" width="144" height="74.2"/><text class="t" x="1318.3" y="1362.3">article_flag</text><text class="m" y="1380.8"><tspan x="1249.3">+article_id: bigint</tspan><tspan x="1249.3" dy="11.4">+article_flag: varchar(50)</tspan><tspan x="1249.3" dy="11.4">+create_time: date</tspan><tspan x="1249.3" dy="11.4">+create_by: int</tspan></text><path class="l" d="M1246.3,1367.3H1390.3M1246.3,1416H1390.3"/></g>
<g id="time_accouting"><rect class="b" x="1237" y="876.7" width="113" height="119.8"/><text class="t" x="1293.5" y="891.7">time_accouting</text><text class="m" y="910.2"><tspan x="1240">+id: smallint</tspan><tspan x="1240" dy="11.4">+ticket_id: bigint</tspan><tspan x="1240" dy="11.4">+article_id: bigint</tspan><tspan x="1240" dy="11.4">+time_unit: smallint</tspan><tspan x="1240" dy="11.4">+create_time: date</tspan><tspan x="1240" dy="11.4">+create_by: int</tspan><tspan x="1240" dy="11.4">+change_time: date</tspan><tspan x="1240" dy="11.4">+change_by: int</tspan></text><path class="l" d="M1237,896.7H1350M1237,991H1350"/></g>
<g id="search_profile"><rect class="b" x="246.3" y="1160.7" width="161" height="85.6"/><text class="t" x="326.8" y="1175.7">search_profile</text><text class="m" y="1194.2"><tspan x="249.3">+login: varchar(200)</tspan><tspan x="249.3" dy="11.4">+profile_type: varchar(30)</tspan><tspan x="249.3" dy="11.4">+profile_name: varchar(200)</tspan><tspan x="249.3" dy="11.4">+profile_key: varchar (200)</tspan><tspan x="249.3" dy="11.4">+profile_value: varchar (200)</tspan></text><path class="l" d="M246.3,1180.7H407.3M246.3,1240.8H407.3"/></g>
<g id="theme"><rect class="b" x="476" y="1134.3" width="113" height="108.4"/><text class="t" x="532.5" y="1149.3">theme</text><text class="m" y="1167.8"><tspan x="479">+id: smallint</tspan><tspan x="479" dy="11.4">+theme: varchar(100)</tspan><tspan x="479" dy="11.4">+valid_id: smallint</tspan><tspan x="479" dy="11.4">+create_time: date</tspan><tspan x="479" dy="11.4">+create_by: int</tspan><tspan x="479" dy="11.4">+change_time: date</tspan><tspan x="479" dy="11.4">+change_by: int</tspan></text><path class="l" d="M476,1154.3H589M476,1237.2H589"/></g>
<g id="generic_agent_jobs"><rect class="b" x="404.1" y="1283" width="177" height="62.8"/><text class="t" x="492.6" y="1298">generic_agent_jobs</text><text class="m" y="1316.5"><tspan x="407.1">+job_name: varchar(200) NOT NULL</tspan><tspan x="407.1" dy="11.4">+job_key: varchar (200) NOT NULL</tspan><tspan x="407.1" dy="11.4">+job_value: char (200) NOT NULL</tspan></text><path class="l" d="M404.1,1303H581.1M404.1,1340.3H581.1"/></g>
<g id="web_upload_cache"><rect class="b" x="224.2" y="1354.3" width="149" height="97"/><text class="t" x="298.7" y="1369.3">web_upload_cache</text><text class="m" y="1387.8"><tspan x="227.2">+form_id: varchar(250)</tspan><tspan x="227.2" dy="11.4">+filename: varchar(250)</tspan><tspan x="227.2" dy="11.4">+content_size: varchar(30)</tspan><tspan x="227.2" dy="11.4">+content_type: varchar(250)</tspan><tspan x="227.2" dy="11.4">+content: longblob</tspan><tspan x="227.2" dy="11.4">+create_time_unix: int</tspan></text><path class="l" d="M224.2,1374.3H373.2M224.2,1445.8H373.2"/></g>
<g id="ticket_loop_protection"><rect class="b" x="430.6" y="1397" width="134" height="51.4"/><text class="t" x="497.6" y="1412">ticket_loop_protection</text><text class="m" y="1430.5"><tspan x="433.6">+sent_to: varchar(250)</tspan><tspan x="433.6" dy="11.4">+send_date: varchar(150)</tspan></text><path class="l" d="M430.6,1417H564.6M430.6,1442.9H564.6"/></g>
</svg>
